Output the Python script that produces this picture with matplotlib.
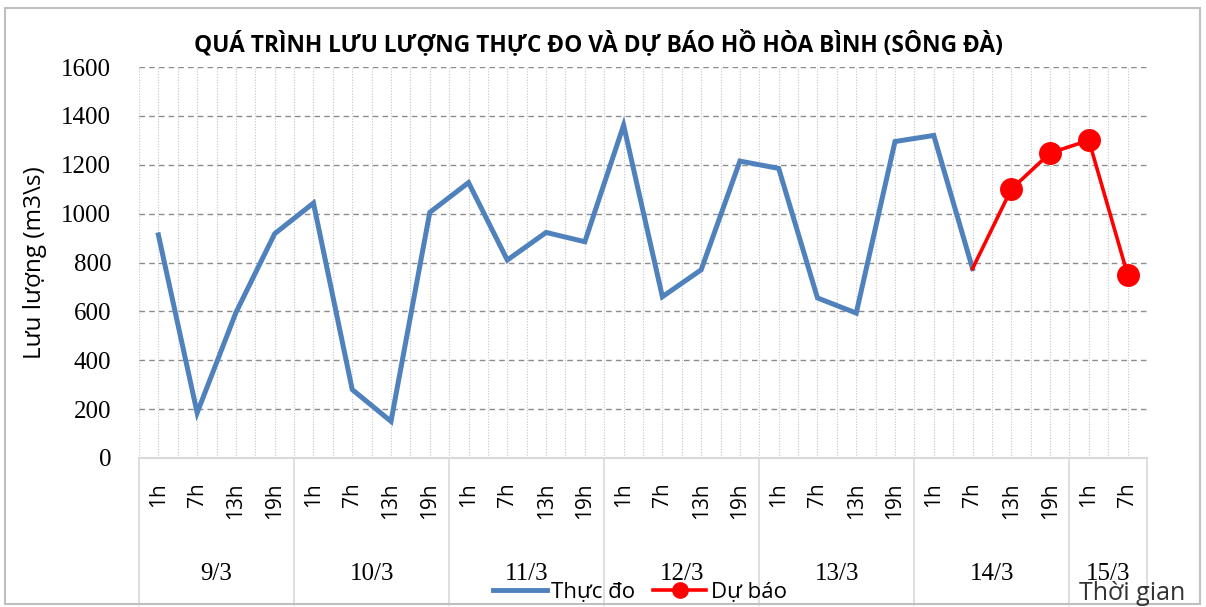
import numpy as np
import matplotlib
matplotlib.use("Agg")
import matplotlib.pyplot as plt
from matplotlib.patches import Rectangle
from matplotlib.lines import Line2D
import matplotlib.transforms as mtransforms

days = ["9/3", "10/3", "11/3", "12/3", "13/3", "14/3", "15/3"]
day_counts = [4, 4, 4, 4, 4, 4, 2]
hours = ["1h", "7h", "13h", "19h"] * 6 + ["1h", "7h"]

observed = [913, 185, 595, 918,
            1043, 280, 150, 1005,
            1127, 810, 923, 885,
            1362, 660, 770, 1215,
            1185, 655, 593, 1295,
            1320, 775]
forecast_start = 21
forecast = [775, 1100, 1248, 1300, 750]

sans = ["Open Sans", "DejaVu Sans"]
serif = ["Liberation Serif", "DejaVu Serif"]

W, H = 1206, 607
fig = plt.figure(figsize=(W / 100, H / 100), dpi=100)
fig.patch.set_facecolor("white")
fig.patches.append(Rectangle((5 / W, 3 / H), 1195 / W, 1 - 11 / H, transform=fig.transFigure,
                             fill=False, edgecolor="#bfbfbf", linewidth=1.5))

left, right, top, bottom = 139, 1147, 67, 458
ax = fig.add_axes([left / W, 1 - bottom / H, (right - left) / W, (bottom - top) / H])

n = len(hours)
x_obs = np.arange(len(observed))
x_fc = np.arange(forecast_start, forecast_start + len(forecast))

ax.plot(x_obs, observed, color="#4F81BD", linewidth=3.6, solid_joinstyle="miter", zorder=3)
ax.plot(x_fc, forecast, color="#FF0000", linewidth=2.6, zorder=4)
ax.plot(x_fc[1:], forecast[1:], color="#FF0000", linestyle="none", marker="o", markersize=15.5, zorder=5)

ax.set_xlim(-0.5, n - 0.5)
ax.set_ylim(0, 1600)
ax.set_yticks(np.arange(0, 1601, 200))
ax.set_yticklabels([str(v) for v in range(0, 1601, 200)], fontfamily=serif, fontsize=18)
ax.tick_params(axis="y", length=0, pad=20)
ax.set_xticks([])
ax.set_xticks(np.arange(-0.5, n, 0.5), minor=True)
ax.tick_params(axis="x", which="both", length=0, labelbottom=False)
ax.grid(axis="y", which="major", linestyle=(0, (4, 3)), color="#8c8c8c", linewidth=1)
ax.grid(axis="x", which="minor", linestyle=(0, (1, 1.5)), color="#c4c4c4", linewidth=0.8)
for s in ["left", "right", "top"]:
    ax.spines[s].set_visible(False)
ax.spines["bottom"].set_color("#d9d9d9")
ax.spines["bottom"].set_linewidth(1.5)
ax.set_axisbelow(True)

ax.set_ylabel("Lưu lượng (m3\\s)", fontfamily=sans, fontsize=17.5)
ax.yaxis.set_label_coords((47 - left) / (right - left), 0.5)

trans = mtransforms.blended_transform_factory(ax.transData, ax.transAxes)
px = 1 / (bottom - top)
for i, h in enumerate(hours):
    ax.text(i, -(482 - bottom) * px, h, rotation=90, ha="center", va="top", fontfamily=sans,
            fontsize=15, transform=trans)

bounds = np.concatenate([[0], np.cumsum(day_counts)]) - 0.5
for b in bounds:
    ax.plot([b, b], [0, -(605 - bottom) * px], transform=trans, clip_on=False,
            color="#d9d9d9", linewidth=1.2)
for d, a, b in zip(days, bounds[:-1], bounds[1:]):
    ax.text((a + b) / 2, -(574 - bottom) * px, d, ha="center", va="center",
            fontfamily=serif, fontsize=18, transform=trans)

fig.text(598 / W, 1 - 44 / H, "QUÁ TRÌNH LƯU LƯỢNG THỰC ĐO VÀ DỰ BÁO HỒ HÒA BÌNH (SÔNG ĐÀ)",
         ha="center", va="center", fontsize=16.4, fontweight="bold", fontfamily=sans)

handles = [Line2D([], [], color="#4F81BD", linewidth=3.5),
           Line2D([], [], color="#FF0000", linewidth=2.6, marker="o", markersize=11)]
fig.legend(handles, ["Thực đo", "Dự báo"], loc="center", bbox_to_anchor=(640 / W, 1 - 592 / H),
           ncol=2, frameon=False, prop={"family": sans, "size": 16}, handlelength=2.4,
           handletextpad=0.2, columnspacing=0.8, borderpad=0)

fig.text(1132 / W, 1 - 594 / H, "Thời gian", ha="center", va="center", fontsize=18,
         fontfamily=sans, color="#333333")

fig.savefig("out.png", dpi=100, facecolor="white")
